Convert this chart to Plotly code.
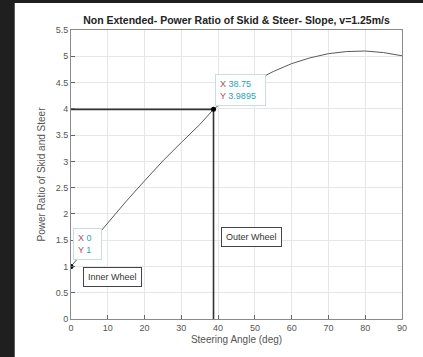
import plotly.graph_objects as go

# --------------------------------------------------
# DATA
# --------------------------------------------------

steer_deg = [0, 5, 10, 15, 20, 25, 30, 35, 38.75, 40, 45, 50, 55, 60, 65, 70, 75, 80, 85, 90]
power_ratio = [1.0, 1.42, 1.84, 2.24, 2.63, 3.01, 3.36, 3.70, 3.9895, 4.06, 4.32, 4.53,
               4.71, 4.86, 4.97, 5.05, 5.09, 5.10, 5.07, 5.01]

tip_x = [0, 38.75]
tip_y = [1, 3.9895]

x_ticks = [0, 10, 20, 30, 40, 50, 60, 70, 80, 90]
y_ticks = [0, 0.5, 1, 1.5, 2, 2.5, 3, 3.5, 4, 4.5, 5, 5.5]

FONT = "Liberation Sans, Arial, sans-serif"

fig = go.Figure()

# main curve
fig.add_trace(go.Scatter(
    x=steer_deg, y=power_ratio, mode="lines",
    line=dict(color="#5a5a5a", width=1),
    showlegend=False, hoverinfo="skip"
))

# guide lines to the datatip
fig.add_trace(go.Scatter(
    x=[tip_x[0], tip_x[1], tip_x[1]], y=[tip_y[1], tip_y[1], 0],
    mode="lines", line=dict(color="#333333", width=1.6),
    showlegend=False, hoverinfo="skip"
))

# datatip points
fig.add_trace(go.Scatter(
    x=tip_x, y=tip_y, mode="markers",
    marker=dict(color="black", size=5),
    showlegend=False, hoverinfo="skip"
))

# --------------------------------------------------
# DATATIPS + TEXT BOXES
# --------------------------------------------------

def datatip(x, y, xs, ys, dx, dy):
    lab = "#a0506e"
    val = "#1fa3b3"
    fig.add_annotation(
        x=x, y=y, xref="x", yref="y",
        text=(f"<span style='color:{lab}'>X</span> <span style='color:{val}'>{xs}</span>  <br>"
              f"<span style='color:{lab}'>Y</span> <span style='color:{val}'>{ys}</span>  "),
        showarrow=False, xanchor="left", yanchor="bottom", align="left",
        xshift=dx, yshift=dy,
        bgcolor="rgba(255,255,255,0.96)", bordercolor="#c8dede", borderwidth=1,
        borderpad=4, font=dict(family=FONT, size=9)
    )

datatip(0, 1, "0", "1", 2, 6)
datatip(38.75, 3.9895, "38.75", "3.9895", 1, 3)

for txt, x, y in [("Inner Wheel", 11.3, 0.79), ("Outer Wheel", 49.0, 1.56)]:
    fig.add_annotation(
        x=x, y=y, xref="x", yref="y", text=txt, showarrow=False,
        bgcolor="white", bordercolor="#444444", borderwidth=1, borderpad=4,
        font=dict(family=FONT, size=9, color="#333333")
    )

# white figure area on dark page
fig.add_shape(
    type="rect", xref="paper", yref="paper",
    x0=-0.17, x1=1.07, y0=-0.14, y1=1.093,
    fillcolor="white", line=dict(width=0), layer="below"
)

fig.update_layout(
    width=423, height=357,
    margin=dict(l=71, r=21, t=30, b=38),
    paper_bgcolor="#1f1f1f",
    plot_bgcolor="white",
    font=dict(family=FONT, size=9, color="#555555"),
    title=dict(
        text="<b>Non Extended- Power Ratio of Skid & Steer- Slope, v=1.25m/s</b>",
        x=0.5, xref="paper", xanchor="center",
        y=0.944, yanchor="middle",
        font=dict(family=FONT, size=10.5, color="#222222")
    ),
    xaxis=dict(
        range=[0, 90], tickvals=x_ticks,
        title=dict(text="Steering Angle (deg)", standoff=4,
                   font=dict(family=FONT, size=10, color="#555555")),
        showline=True, mirror=True, linecolor="#8a8a8a", linewidth=1,
        ticks="inside", ticklen=4, tickcolor="#666666",
        showgrid=True, gridcolor="#e6e6e6", zeroline=False
    ),
    yaxis=dict(
        range=[0, 5.5], tickvals=y_ticks,
        title=dict(text="Power Ratio of Skid and Steer", standoff=8,
                   font=dict(family=FONT, size=10, color="#555555")),
        showline=True, mirror=True, linecolor="#8a8a8a", linewidth=1,
        ticks="inside", ticklen=4, tickcolor="#666666",
        showgrid=True, gridcolor="#e6e6e6", zeroline=False
    )
)

fig.write_html(
    "out.html",
    config={"displayModeBar": False},
    post_script="document.body.style.margin='0';"
)
